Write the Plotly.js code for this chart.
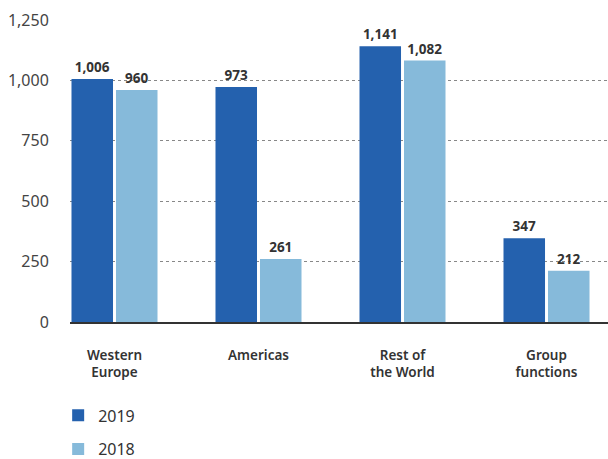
<!DOCTYPE html>
<html>
<head>
<meta charset="utf-8">
<script src="https://cdn.plot.ly/plotly-3.0.1.min.js"></script>
<style>html,body{margin:0;padding:0;background:#fff;}#chart{width:608px;height:459px;}</style>
</head>
<body>
<div id="chart"></div>
<script>
const categories = ["Western<br>Europe", "Americas", "Rest of<br>the World", "Group<br>functions"];
const values2019 = [1006, 973, 1141, 347];
const values2018 = [960, 261, 1082, 212];
const seriesNames = ["2019", "2018"];
const yTicks = [0, 250, 500, 750, 1000, 1250];
const yTickLabels = ["0", "250", "500", "750", "1,000", "1,250"];

const fmt = v => v.toLocaleString("en-US");
const FONT = "Noto Sans, Open Sans, sans-serif";

const traces = [
  {type: "bar", name: seriesNames[0], x: categories, y: values2019,
   marker: {color: "#2461ae"}, legendgroup: "a",
   text: values2019.map(fmt), textposition: "outside", cliponaxis: false,
   textfont: {family: FONT, size: 13.5, color: "#333", weight: "bold"}, hoverinfo: "none"},
  {type: "bar", name: seriesNames[1], x: categories, y: values2018,
   marker: {color: "#86bada"}, legendgroup: "b",
   text: values2018.map(fmt), textposition: "outside", cliponaxis: false,
   textfont: {family: FONT, size: 13.5, color: "#333", weight: "bold"}, hoverinfo: "none"}
];

const layout = {
  width: 608, height: 459,
  margin: {l: 70, r: 0, t: 20, b: 137, autoexpand: false},
  paper_bgcolor: "#fff", plot_bgcolor: "#fff",
  font: {family: FONT, color: "#333"},
  barmode: "group", bargap: 0.382, bargroupgap: 0.067,
  xaxis: {
    type: "category", range: [-0.309, 3.427], automargin: false,
    showgrid: false, showline: true, linecolor: "#333", linewidth: 1.5,
    ticks: "outside", ticklen: 20, tickcolor: "rgba(0,0,0,0)",
    tickfont: {family: FONT, size: 13.5, color: "#333", weight: 600},
    fixedrange: true
  },
  yaxis: {
    range: [0, 1250], tickvals: yTicks, ticktext: yTickLabels, automargin: false,
    showgrid: true, gridcolor: "#888", griddash: "dot", gridwidth: 1,
    zeroline: false, showline: false,
    ticks: "outside", ticklen: 17, tickcolor: "rgba(0,0,0,0)",
    tickfont: {family: FONT, size: 16, color: "#444"},
    fixedrange: true
  },
  showlegend: true,
  legend: {
    x: -0.022, xanchor: "left", y: -0.253, yanchor: "top",
    orientation: "v", traceorder: "grouped", tracegroupgap: 10,
    font: {family: FONT, size: 16, color: "#333"}
  }
};

Plotly.newPlot("chart", traces, layout, {displayModeBar: false, staticPlot: true});
</script>
</body>
</html>
